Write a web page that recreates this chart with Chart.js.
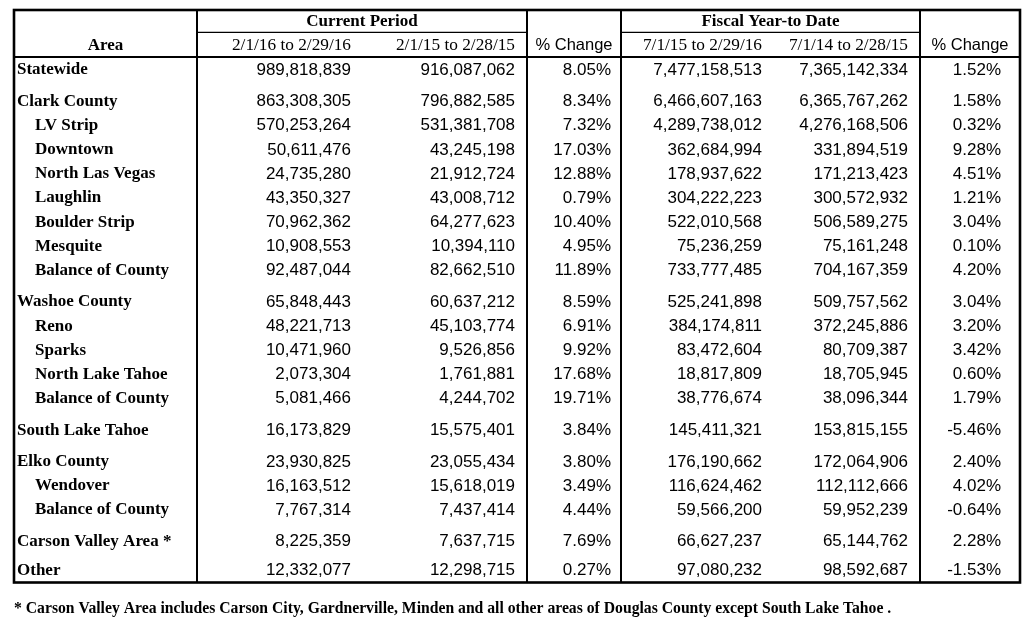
<!DOCTYPE html>
<html>
<head>
<meta charset="utf-8">
<script src="https://cdn.jsdelivr.net/npm/chart.js@4.4.1/dist/chart.umd.min.js"></script>
<style>
  html, body { margin: 0; padding: 0; background: #ffffff; }
  #wrap { width: 1024px; height: 631px; position: relative; }
</style>
</head>
<body>
<div id="wrap"><canvas id="c"></canvas></div>
<script>
// ---------------- DATA ----------------
const areas = ['Statewide','Clark County','LV Strip','Downtown','North Las Vegas','Laughlin','Boulder Strip','Mesquite','Balance of County','Washoe County','Reno','Sparks','North Lake Tahoe','Balance of County','South Lake Tahoe','Elko County','Wendover','Balance of County','Carson Valley Area *','Other'];
const isSub = [0,0,1,1,1,1,1,1,1,0,1,1,1,1,0,0,1,1,0,0];
const cur16 = [989818839, 863308305, 570253264, 50611476, 24735280, 43350327, 70962362, 10908553, 92487044, 65848443, 48221713, 10471960, 2073304, 5081466, 16173829, 23930825, 16163512, 7767314, 8225359, 12332077];
const cur15 = [916087062, 796882585, 531381708, 43245198, 21912724, 43008712, 64277623, 10394110, 82662510, 60637212, 45103774, 9526856, 1761881, 4244702, 15575401, 23055434, 15618019, 7437414, 7637715, 12298715];
const curPct = [8.05, 8.34, 7.32, 17.03, 12.88, 0.79, 10.40, 4.95, 11.89, 8.59, 6.91, 9.92, 17.68, 19.71, 3.84, 3.80, 3.49, 4.44, 7.69, 0.27];
const fy16 = [7477158513, 6466607163, 4289738012, 362684994, 178937622, 304222223, 522010568, 75236259, 733777485, 525241898, 384174811, 83472604, 18817809, 38776674, 145411321, 176190662, 116624462, 59566200, 66627237, 97080232];
const fy15 = [7365142334, 6365767262, 4276168506, 331894519, 171213423, 300572932, 506589275, 75161248, 704167359, 509757562, 372245886, 80709387, 18705945, 38096344, 153815155, 172064906, 112112666, 59952239, 65144762, 98592687];
const fyPct = [1.52, 1.58, 0.32, 9.28, 4.51, 1.21, 3.04, 0.10, 4.20, 3.04, 3.20, 3.42, 0.60, 1.79, -5.46, 2.40, 4.02, -0.64, 2.28, -1.53];
const groupHeaders = ['Current Period', 'Fiscal Year-to Date'];
const colHeaders = ['2/1/16 to 2/29/16', '2/1/15 to 2/28/15', '% Change', '7/1/15 to 2/29/16', '7/1/14 to 2/28/15', '% Change'];
const areaHeader = 'Area';
const footnote = '* Carson Valley Area includes Carson City, Gardnerville, Minden and all other areas of Douglas County except South Lake Tahoe .';
const newGroup = [0,1,0,0,0,0,0,0,0,1,0,0,0,0,1,1,0,0,1,1];

// ---------------- LAYOUT (scale units) ----------------
const L = {
  left: 14, right: 1020, top: 10, bottom: 582.5,
  vlines: [197, 527, 621, 920],
  subLineY: 32.3, headBottom: 57,
  groupY: 22, headY: 45.5,
  colRight: [351, 515, 611, 762, 908, 1001],
  firstRow: 70, rowH: 24.1, gap: 7.6, lastGap: 4.5,
  labelX: 17, indent: 18, footY: 609
};
function rowY(i) {
  let g = 0;
  for (let k = 0; k <= i; k++) if (newGroup[k]) g += (k === areas.length - 1 ? L.lastGap : L.gap);
  return L.firstRow + i * L.rowH + g;
}
const fmtN = v => v.toLocaleString('en-US');
const fmtP = v => v.toFixed(2) + '%';

const tablePlugin = {
  id: 'tablePlugin',
  afterDraw(chart) {
    const ctx = chart.ctx, xs = chart.scales.x, ys = chart.scales.y;
    const X = v => xs.getPixelForValue(v), Y = v => ys.getPixelForValue(v);
    ctx.save();
    ctx.strokeStyle = '#000';
    ctx.fillStyle = '#000';
    const line = (x1, y1, x2, y2, w) => { ctx.lineWidth = w; ctx.beginPath(); ctx.moveTo(X(x1), Y(y1)); ctx.lineTo(X(x2), Y(y2)); ctx.stroke(); };
    line(L.vlines[0], L.subLineY, L.vlines[1], L.subLineY, 1.2);
    line(L.vlines[2], L.subLineY, L.vlines[3], L.subLineY, 1.2);
    line(L.left, L.headBottom, L.right, L.headBottom, 2);
    L.vlines.forEach(v => line(v, L.top, v, L.bottom, 2));
    ctx.lineWidth = 2.6;
    ctx.strokeRect(X(L.left), Y(L.top), X(L.right) - X(L.left), Y(L.bottom) - Y(L.top));

    ctx.textBaseline = 'middle';
    ctx.font = 'bold 17px "Liberation Serif"';
    ctx.textAlign = 'center';
    ctx.fillText(groupHeaders[0], X((L.vlines[0] + L.vlines[1]) / 2), Y(L.groupY));
    ctx.fillText(groupHeaders[1], X((L.vlines[2] + L.vlines[3]) / 2), Y(L.groupY));
    ctx.fillText(areaHeader, X((L.left + L.vlines[0]) / 2), Y(L.headY));
    ctx.font = '17.3px "Liberation Serif"';
    ctx.textAlign = 'right';
    [0, 1, 3, 4].forEach(c => ctx.fillText(colHeaders[c], X(L.colRight[c]), Y(L.headY)));
    ctx.font = '16.5px "Liberation Sans"';
    ctx.textAlign = 'center';
    ctx.fillText(colHeaders[2], X((L.vlines[1] + L.vlines[2]) / 2), Y(L.headY));
    ctx.fillText(colHeaders[5], X((L.vlines[3] + L.right) / 2), Y(L.headY));

    areas.forEach((a, i) => {
      const y = Y(rowY(i));
      ctx.font = 'bold 17px "Liberation Serif"';
      ctx.textAlign = 'left';
      ctx.fillText(a, X(L.labelX + (isSub[i] ? L.indent : 0)), y);
      ctx.font = '17px "Liberation Sans"';
      ctx.textAlign = 'right';
      const cells = [fmtN(cur16[i]), fmtN(cur15[i]), fmtP(curPct[i]), fmtN(fy16[i]), fmtN(fy15[i]), fmtP(fyPct[i])];
      cells.forEach((t, c) => ctx.fillText(t, X(L.colRight[c]), y));
    });

    ctx.font = 'bold 15.7px "Liberation Serif"';
    ctx.textAlign = 'left';
    ctx.fillText(footnote, X(L.left), Y(L.footY));
    ctx.restore();
  }
};

new Chart(document.getElementById('c'), {
  type: 'scatter',
  data: { datasets: [{ data: [], showLine: false }] },
  options: {
    responsive: true,
    maintainAspectRatio: false,
    animation: false,
    layout: { padding: 0 },
    plugins: { legend: { display: false }, tooltip: { enabled: false }, title: { display: false } },
    scales: {
      x: { type: 'linear', min: 0, max: 1024, display: false },
      y: { type: 'linear', min: 0, max: 631, reverse: true, display: false }
    }
  },
  plugins: [tablePlugin]
});
</script>
</body>
</html>
